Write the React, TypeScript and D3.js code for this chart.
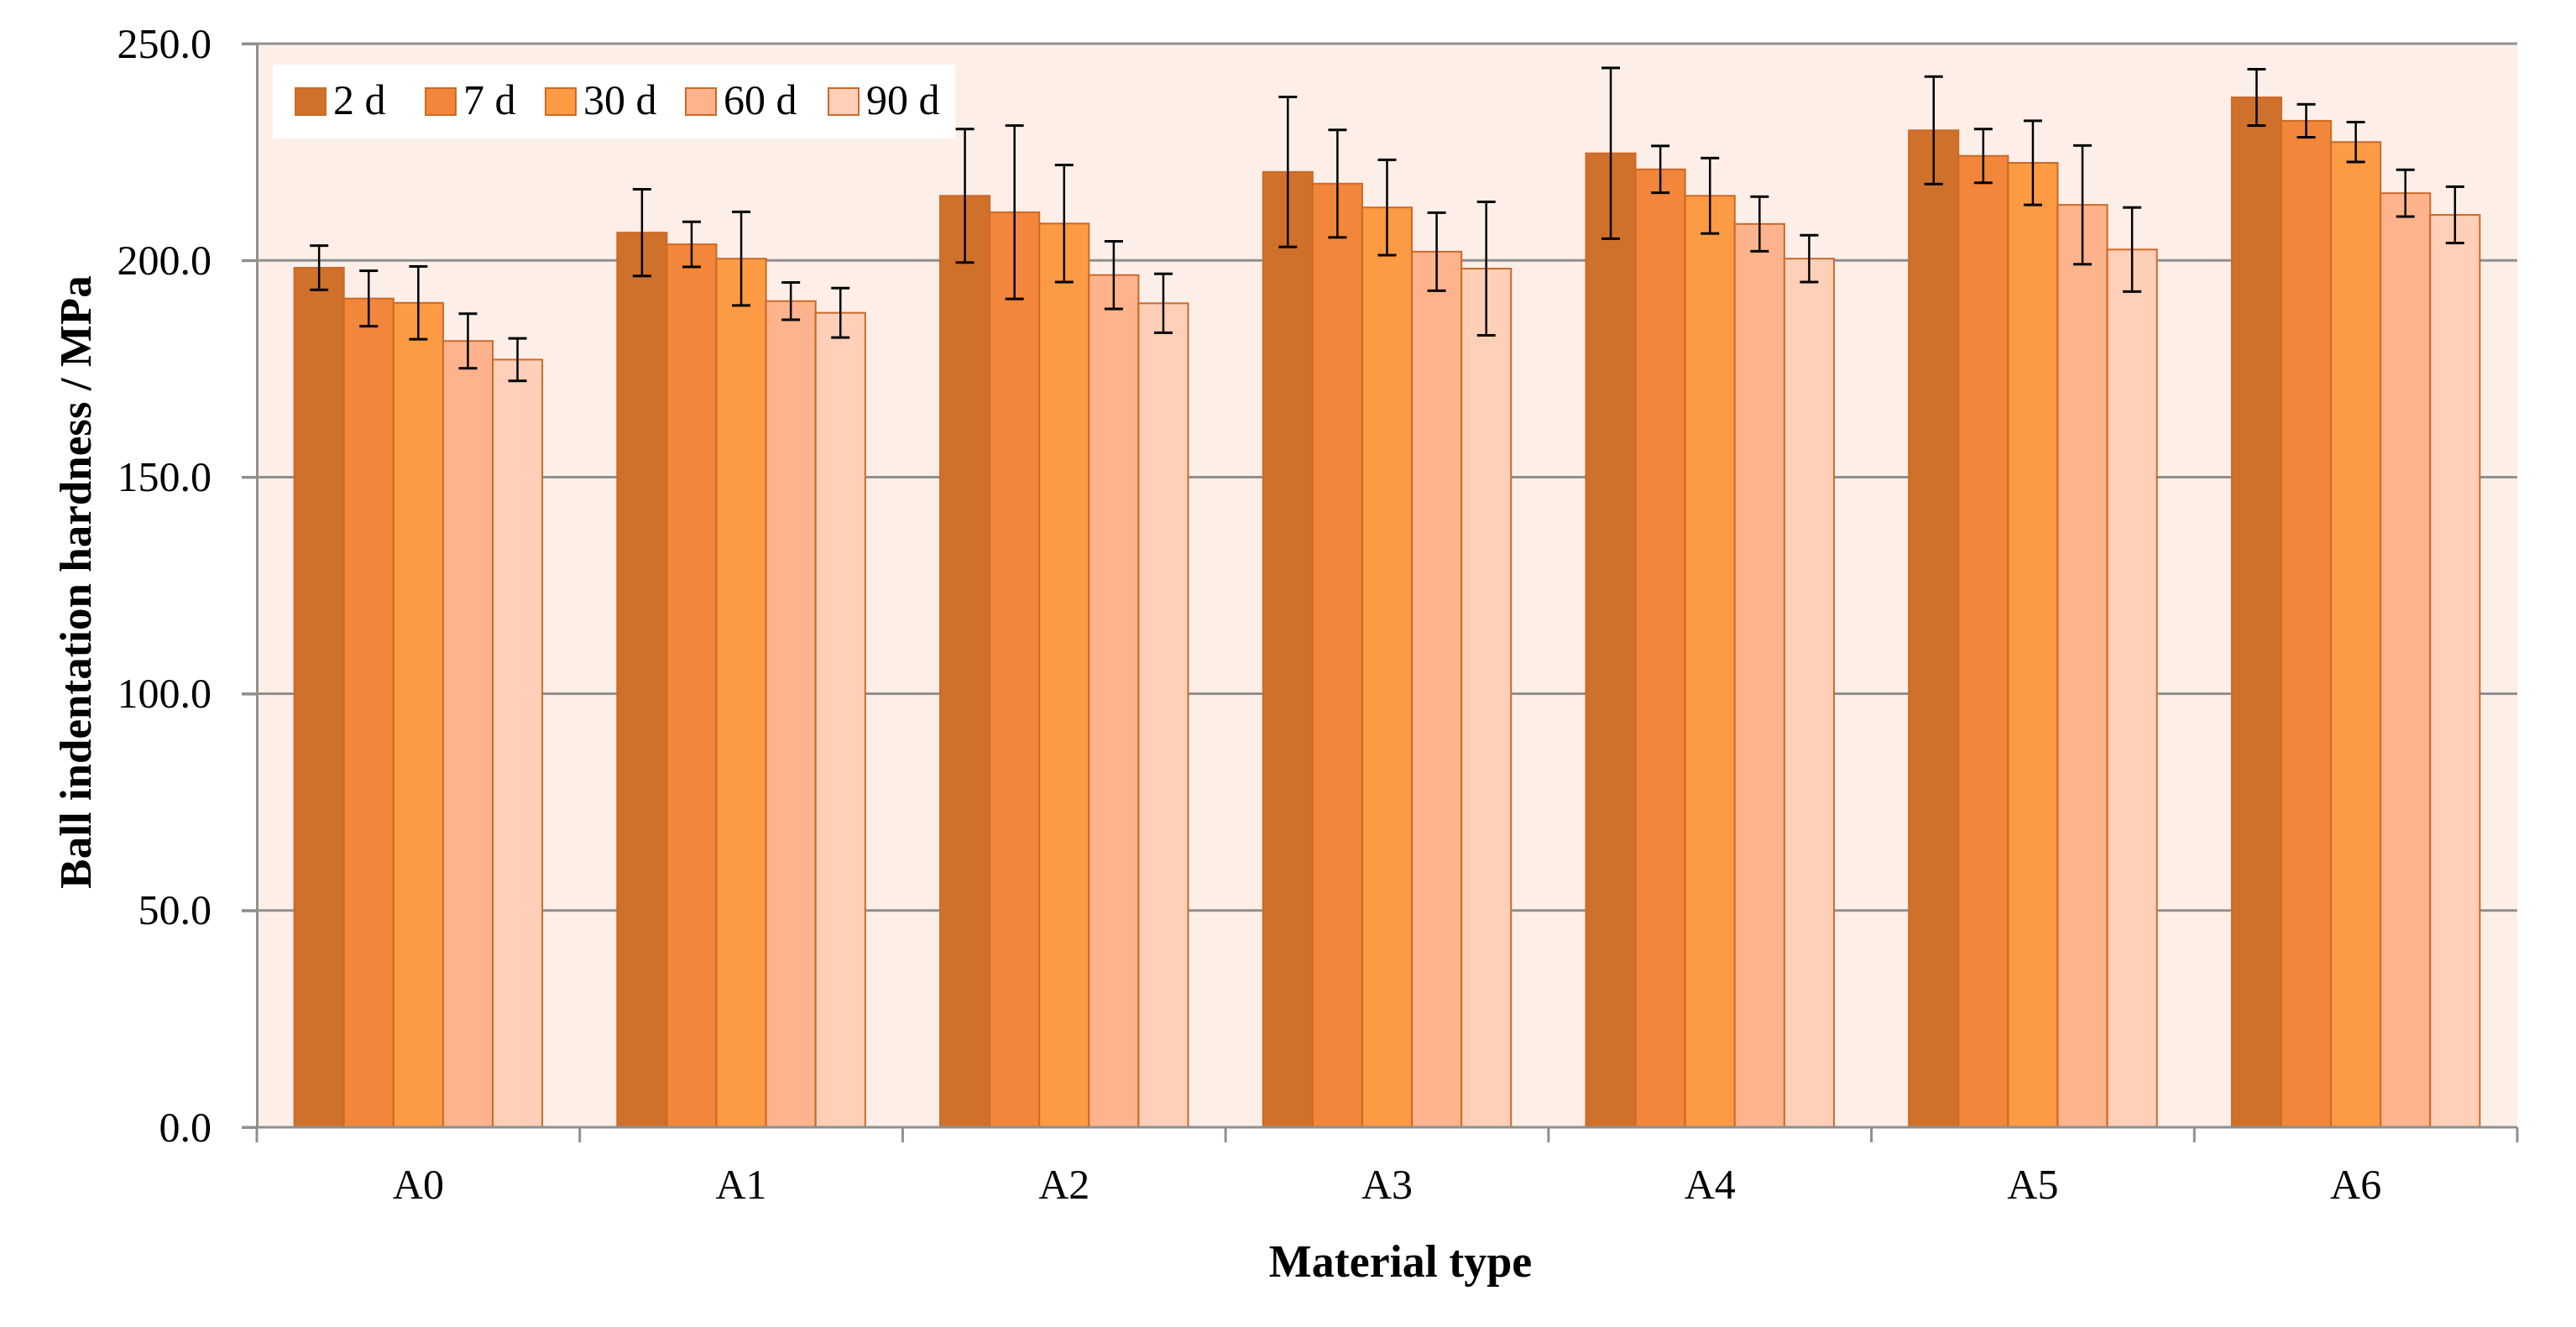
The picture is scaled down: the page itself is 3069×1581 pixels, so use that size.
import React, { useRef, useEffect } from 'react';
import * as d3 from 'd3';

const categories = ['A0', 'A1', 'A2', 'A3', 'A4', 'A5', 'A6'];
const seriesNames = ['2 d', '7 d', '30 d', '60 d', '90 d'];

// mean hardness per series, one value per material
const values2d = [198.3, 206.4, 214.9, 220.4, 224.7, 230.0, 237.6];
const values7d = [191.2, 203.7, 211.1, 217.7, 221.0, 224.1, 232.2];
const values30d = [190.2, 200.4, 208.5, 212.2, 214.9, 222.5, 227.3];
const values60d = [181.4, 190.6, 196.6, 202.0, 208.4, 212.8, 215.5];
const values90d = [177.1, 187.9, 190.1, 198.1, 200.4, 202.5, 210.5];

// standard deviation (error bar half-length)
const err2d = [5.1, 10.0, 15.4, 17.3, 19.7, 12.4, 6.5];
const err7d = [6.4, 5.2, 20.0, 12.4, 5.4, 6.2, 3.8];
const err30d = [8.4, 10.8, 13.5, 11.0, 8.7, 9.7, 4.6];
const err60d = [6.3, 4.3, 7.8, 9.0, 6.3, 13.7, 5.4];
const err90d = [4.9, 5.7, 6.8, 15.4, 5.4, 9.7, 6.5];

const yTicks = [0, 50, 100, 150, 200, 250];
const colors = ['#cf712b', '#f2863a', '#fd9a44', '#feb38c', '#ffcfb8'];

const WIDTH = 3069;
const HEIGHT = 1581;
const FONT = '"Liberation Serif", "Times New Roman", serif';

const App: React.FC = () => {
  const svgRef = useRef<SVGSVGElement>(null);

  useEffect(() => {
    document.body.style.margin = '0';
    if (!svgRef.current) return;

    const svg = d3.select(svgRef.current);
    svg.selectAll('*').remove();

    const margin = { top: 52, right: 70, bottom: 238, left: 306 };
    const innerWidth = WIDTH - margin.left - margin.right;
    const innerHeight = HEIGHT - margin.top - margin.bottom;

    const allValues = [values2d, values7d, values30d, values60d, values90d];
    const allErrors = [err2d, err7d, err30d, err60d, err90d];

    const x0 = d3.scaleBand<string>()
      .domain(categories)
      .range([0, innerWidth])
      .padding(0);

    const x1 = d3.scaleBand<string>()
      .domain(seriesNames)
      .range([0, x0.bandwidth()])
      .paddingInner(0)
      .paddingOuter(0.755);

    const y = d3.scaleLinear()
      .domain([0, 250])
      .range([innerHeight, 0]);

    const g = svg.append('g')
      .attr('transform', `translate(${margin.left},${margin.top})`);

    // plot background
    g.append('rect')
      .attr('width', innerWidth)
      .attr('height', innerHeight)
      .attr('fill', '#fdeee8');

    // gridlines
    g.selectAll('.grid')
      .data(yTicks.filter(t => t > 0))
      .enter()
      .append('line')
      .attr('x1', -18)
      .attr('x2', innerWidth)
      .attr('y1', d => y(d))
      .attr('y2', d => y(d))
      .attr('stroke', '#8f8f8f')
      .attr('stroke-width', 3);

    // bars
    const rows = categories.flatMap((cat, ci) =>
      seriesNames.map((s, si) => ({
        cat,
        series: s,
        si,
        value: allValues[si][ci],
        err: allErrors[si][ci],
      }))
    );

    g.selectAll('.bar')
      .data(rows)
      .enter()
      .append('rect')
      .attr('class', 'bar')
      .attr('x', d => (x0(d.cat) ?? 0) + (x1(d.series) ?? 0))
      .attr('y', d => y(d.value))
      .attr('width', x1.bandwidth())
      .attr('height', d => innerHeight - y(d.value))
      .attr('fill', d => colors[d.si])
      .attr('stroke', '#cc6a26')
      .attr('stroke-width', 2);

    // error bars
    const cap = 11;
    const eb = g.selectAll('.err')
      .data(rows)
      .enter()
      .append('g')
      .attr('transform', d => `translate(${(x0(d.cat) ?? 0) + (x1(d.series) ?? 0) + x1.bandwidth() / 2},0)`);

    eb.append('line')
      .attr('y1', d => y(d.value + d.err))
      .attr('y2', d => y(d.value - d.err))
      .attr('stroke', '#000')
      .attr('stroke-width', 2.5);
    eb.append('line')
      .attr('x1', -cap).attr('x2', cap)
      .attr('y1', d => y(d.value + d.err))
      .attr('y2', d => y(d.value + d.err))
      .attr('stroke', '#000')
      .attr('stroke-width', 3);
    eb.append('line')
      .attr('x1', -cap).attr('x2', cap)
      .attr('y1', d => y(d.value - d.err))
      .attr('y2', d => y(d.value - d.err))
      .attr('stroke', '#000')
      .attr('stroke-width', 3);

    // y axis
    const yAxis = d3.axisLeft(y)
      .tickValues(yTicks)
      .tickSize(18)
      .tickPadding(36)
      .tickFormat(d3.format('.1f'));

    const yG = g.append('g').call(yAxis);
    yG.select('.domain').attr('stroke', '#8f8f8f').attr('stroke-width', 3);
    yG.selectAll('.tick line').attr('stroke', '#8f8f8f').attr('stroke-width', 3);
    yG.selectAll('.tick text')
      .style('font-family', FONT)
      .style('font-size', '50px')
      .attr('fill', '#000');

    // x axis
    const boundaries = d3.range(categories.length + 1).map(i => i * x0.step());
    g.append('line')
      .attr('x1', -18)
      .attr('x2', innerWidth)
      .attr('y1', innerHeight)
      .attr('y2', innerHeight)
      .attr('stroke', '#8f8f8f')
      .attr('stroke-width', 3);

    g.selectAll('.xtick')
      .data(boundaries)
      .enter()
      .append('line')
      .attr('x1', d => d)
      .attr('x2', d => d)
      .attr('y1', innerHeight)
      .attr('y2', innerHeight + 18)
      .attr('stroke', '#8f8f8f')
      .attr('stroke-width', 3);

    g.selectAll('.xlabel')
      .data(categories)
      .enter()
      .append('text')
      .attr('x', d => (x0(d) ?? 0) + x0.bandwidth() / 2)
      .attr('y', innerHeight + 85)
      .attr('text-anchor', 'middle')
      .style('font-family', FONT)
      .style('font-size', '50px')
      .text(d => d);

    // axis titles
    svg.append('text')
      .attr('x', margin.left + innerWidth / 2 + 16)
      .attr('y', 1521)
      .attr('text-anchor', 'middle')
      .style('font-family', FONT)
      .style('font-size', '54px')
      .style('font-weight', 'bold')
      .text('Material type');

    svg.append('text')
      .attr('transform', `translate(108,${margin.top + innerHeight / 2 - 4}) rotate(-90)`)
      .attr('text-anchor', 'middle')
      .style('font-family', FONT)
      .style('font-size', '53px')
      .style('font-weight', 'bold')
      .text('Ball indentation hardness / MPa');

    // legend
    const legend = svg.append('g');
    legend.append('rect')
      .attr('x', 325)
      .attr('y', 77)
      .attr('width', 813)
      .attr('height', 88)
      .attr('fill', '#ffffff');

    const legendX = [352, 507, 650, 817, 987];
    const items = legend.selectAll('.li')
      .data(seriesNames)
      .enter()
      .append('g')
      .attr('transform', (_, i) => `translate(${legendX[i]},0)`);

    items.append('rect')
      .attr('y', 105)
      .attr('width', 36)
      .attr('height', 32)
      .attr('fill', (_, i) => colors[i])
      .attr('stroke', '#cc6a26')
      .attr('stroke-width', 2);

    items.append('text')
      .attr('x', 45)
      .attr('y', 136)
      .style('font-family', FONT)
      .style('font-size', '50px')
      .text(d => d);
  }, []);

  return (
    <svg
      ref={svgRef}
      width={WIDTH}
      height={HEIGHT}
      style={{ display: 'block', background: '#ffffff' }}
    />
  );
};

export default App;
